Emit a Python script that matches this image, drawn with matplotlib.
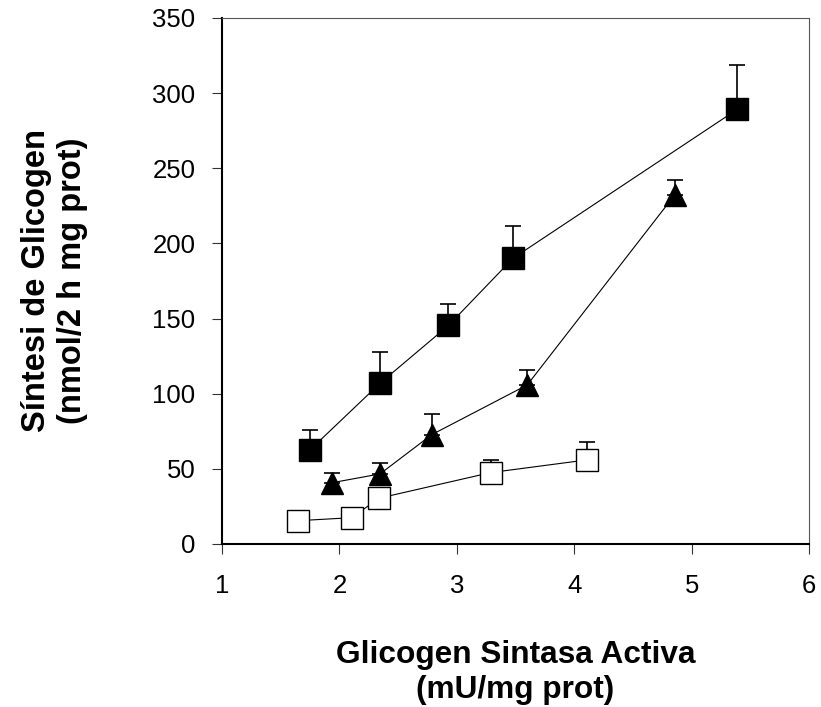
#!/usr/bin/env python3
# -*- coding: utf-8 -*-
import matplotlib
matplotlib.use("Agg")
from matplotlib import rcParams, pyplot as plt
import numpy as np

rcParams["font.family"] = ["Liberation Sans", "DejaVu Sans"]

# filled squares
SQ_X = [1.75, 2.347, 2.929, 3.479, 5.387]
SQ_Y = [62.6, 107.0, 145.4, 190.1, 289.1]
SQ_ERR = [13.3, 21.0, 14.0, 21.3, 29.5]

# filled triangles
TRI_X = [1.94, 2.346, 2.786, 3.60, 4.856]
TRI_Y = [40.8, 46.6, 72.7, 105.8, 232.2]
TRI_ERR = [6.6, 7.3, 14.0, 10.0, 10.0]

# open squares
OPEN_X = [1.65, 2.107, 2.335, 3.289, 4.106]
OPEN_Y = [15.5, 17.5, 30.4, 47.5, 55.9]
OPEN_ERR = [0.0, 0.0, 0.0, 8.4, 11.8]

X_TICKS = [1, 2, 3, 4, 5, 6]
Y_TICKS = [0, 50, 100, 150, 200, 250, 300, 350]


def series(ax, x, y, err, marker, face, size):
    # error bars only upwards, kept under the markers
    ax.errorbar(x, y, yerr=[np.zeros(len(err)), err], fmt="none", ecolor="black",
                elinewidth=1.2, capsize=5.6, capthick=1.2, zorder=2)
    ax.plot(x, y, color="black", linewidth=0.8, marker=marker, markersize=size,
            markerfacecolor=face, markeredgecolor="black", markeredgewidth=1.0, zorder=3)


def plot():
    fig = plt.figure(figsize=(8.21, 7.07), dpi=100)
    ax = fig.add_axes([0.2704, 0.2306, 0.715, 0.744])

    series(ax, SQ_X, SQ_Y, SQ_ERR, "s", "black", 16.5)
    series(ax, TRI_X, TRI_Y, TRI_ERR, "^", "black", 15.5)
    series(ax, OPEN_X, OPEN_Y, OPEN_ERR, "s", "white", 16.3)

    ax.set_xlim(1, 6)
    ax.set_ylim(0, 350)
    ax.set_xticks(X_TICKS)
    ax.set_yticks(Y_TICKS)

    for side in ("left", "bottom"):
        ax.spines[side].set_linewidth(1.5)
        ax.spines[side].set_color("black")
    for side in ("top", "right"):
        ax.spines[side].set_linewidth(0.8)
        ax.spines[side].set_color("#555555")

    ax.tick_params(direction="out", length=7.5, width=0.8, color="#333333", labelsize=18.5)
    ax.tick_params(axis="x", pad=14)
    ax.tick_params(axis="y", pad=11.5)

    ax.set_xlabel("Glicogen Sintasa Activa\n(mU/mg prot)", fontsize=22.8,
                  fontweight="bold", linespacing=1.2)
    ax.xaxis.set_label_coords(0.5, -0.183)
    ax.set_ylabel("Síntesi de Glicogen\n(nmol/2 h mg prot)", fontsize=23.5,
                  fontweight="bold", linespacing=1.2)
    ax.yaxis.set_label_coords(-0.228, 0.5)

    fig.savefig("out.png", dpi=100)


if __name__ == '__main__':
    plot()
